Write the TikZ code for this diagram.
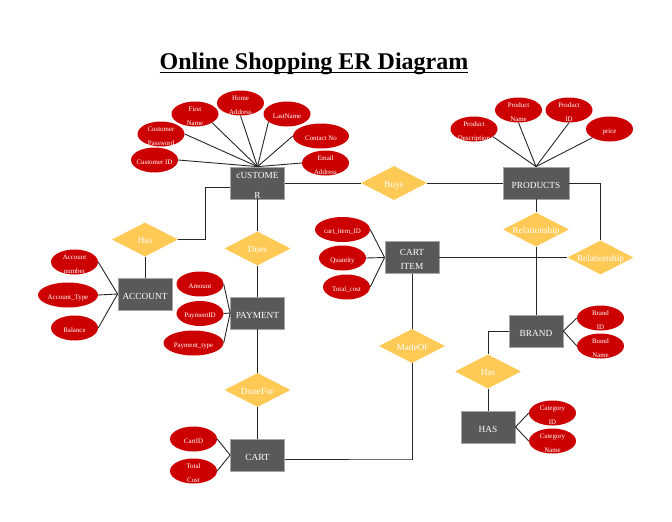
\documentclass[tikz,border=0pt]{standalone}
\usepackage{fontspec}
\setmainfont{Liberation Serif}
\usetikzlibrary{shapes.geometric}

\definecolor{attribred}{HTML}{CC0000}
\definecolor{relyellow}{HTML}{FFC955}
\definecolor{entitygrey}{HTML}{595959}
\definecolor{entityedge}{HTML}{A6A6A6}

\tikzset{
  entity/.style={align=center,text=white,rectangle,fill=entitygrey,draw=entityedge,line width=0.8pt,
    minimum width=54pt,minimum height=32pt,inner xsep=0pt,inner ysep=-9pt,
    text height=11.5pt,text depth=0pt,font=\fontsize{9.3}{14.5}\selectfont},
  attrib/.style={align=center,text=white,ellipse,fill=attribred,minimum width=47pt,minimum height=25pt,
    inner xsep=-12pt,inner ysep=-9pt,text height=8pt,text depth=0pt,font=\fontsize{6.9}{14}\selectfont},
  twoline/.style={text height=22.6pt},
  relation/.style={align=center,text=white,diamond,fill=relyellow,minimum width=66pt,minimum height=34pt,
    inner xsep=-10pt,inner ysep=-4pt,text height=8.5pt,text depth=0pt,font=\fontsize{9.3}{11}\selectfont},
  link/.style={line width=0.9pt,black!85}
}

\begin{document}
\begin{tikzpicture}[x=1pt,y=-1pt]
      % Bounding box
      \path (0,0) rectangle (672,522);

      \draw (314,64) node (title) {\fontsize{24}{28}\selectfont\bfseries
        \rlap{\rule[-3.8pt]{308pt}{1.8pt}}Online Shopping ER Diagram};

      % Entities
      \draw (257.5,183) node[entity,text height=30pt] (customer) {cUSTOME\\[5pt]R};
      \draw (536,183) node[entity,minimum width=66pt] (products) {PRODUCTS};
      \draw (145,294) node[entity] (account) {ACCOUNT};
      \draw (257.5,313) node[entity] (payment) {PAYMENT};
      \draw (412,257.5) node[entity,text height=24pt] (cartitem) {CART\\ITEM};
      \draw (536,331) node[entity] (brand) {BRAND};
      \draw (488,427) node[entity] (has) {HAS};
      \draw (257.5,455) node[entity] (cart) {CART};

      % Relations
      \draw (394,183) node[relation] (buys) {Buys};
      \draw (145,239.5) node[relation] (hasaccount) {Has};
      \draw (257.5,248.5) node[relation] (does) {Does};
      \draw (536,229.5) node[relation] (relproduct) {Relationship};
      \draw (600.5,257.5) node[relation] (relitem) {Relationship};
      \draw (412,346) node[relation] (madeof) {MadeOf};
      \draw (488,371.5) node[relation] (hasbrand) {Has};
      \draw (257.5,390) node[relation] (donefor) {DoneFor};

      % Attributes
      \draw (154.5,160) node[attrib] (custid) {Customer ID};
      \draw (161,134) node[attrib,twoline] (custpass) {Customer\\Password};
      \draw (195,114) node[attrib,twoline] (firstname) {First\\Name};
      \draw (240.5,103) node[attrib,twoline] (homeaddr) {Home\\Address};
      \draw (287,114) node[attrib] (lastname) {LastName};
      \draw (321,136) node[attrib,minimum width=56pt] (contact) {Contact No};
      \draw (325.5,163) node[attrib,twoline] (email) {Email\\Address};

      \draw (474,129) node[attrib,twoline] (proddesc) {Product\\Description};
      \draw (518.5,110) node[attrib,twoline] (prodname) {Product\\Name};
      \draw (569,110) node[attrib,twoline] (prodid) {Product\\ID};
      \draw (609.5,129) node[attrib] (price) {price};

      \draw (74.5,262) node[attrib,twoline] (accnum) {Account\\number};
      \draw (68,295) node[attrib,minimum width=60pt] (acctype) {Account\_Type};
      \draw (74.5,328) node[attrib] (balance) {Balance};

      \draw (200,284) node[attrib] (amount) {Amount};
      \draw (200,313.5) node[attrib] (payid) {PaymentID};
      \draw (193.5,343) node[attrib,minimum width=60pt] (paytype) {Payment\_type};

      \draw (342.5,229.5) node[attrib,minimum width=55pt] (itemid) {cart\_item\_ID};
      \draw (342.5,258) node[attrib] (quantity) {Quantity};
      \draw (346.5,287) node[attrib] (totalcost) {Total\_cost};

      \draw (600.5,318) node[attrib,twoline] (brandid) {Brand\\ID};
      \draw (600.5,346) node[attrib,twoline] (brandname) {Brand\\Name};
      \draw (552.5,413) node[attrib,twoline] (catid) {Category\\ID};
      \draw (552.5,441) node[attrib,twoline] (catname) {Category\\Name};
      \draw (193.5,439) node[attrib] (cartid) {CartID};
      \draw (193.5,471) node[attrib,twoline] (carttotal) {Total\\Cost};

      \coordinate (hasbend) at (205,187.5);
      \coordinate (cartbend) at (411.5,459);

      \draw [link] (custid.east) -- (customer.north);
      \draw [link] (custpass.east) -- (customer.north);
      \draw [link] (firstname.-27) -- (customer.north);
      \draw [link] (homeaddr.south) -- (customer.north);
      \draw [link] (lastname.203) -- (customer.north);
      \draw [link] (contact.west) -- (customer.north);
      \draw [link] (email.west) -- (customer.north);

      \draw [link] (proddesc.-22) -- (products.north);
      \draw [link] (prodname.south) -- (products.north);
      \draw [link] (prodid.south) -- (products.north);
      \draw [link] (price.207) -- (products.north);

      \draw [link] (accnum.east) -- (account.west);
      \draw [link] (acctype.east) -- (account.west);
      \draw [link] (balance.east) -- (account.west);
      \draw [link] (amount.east) -- (payment.west);
      \draw [link] (payid.east) -- (payment.west);
      \draw [link] (paytype.east) -- (payment.west);
      \draw [link] (itemid.east) -- (cartitem.west);
      \draw [link] (quantity.east) -- (cartitem.west);
      \draw [link] (totalcost.east) -- (cartitem.west);
      \draw [link] (brandid.west) -- (brand.east);
      \draw [link] (brandname.west) -- (brand.east);
      \draw [link] (catid.west) -- (has.east);
      \draw [link] (catname.west) -- (has.east);
      \draw [link] (cartid.east) -- (cart.west);
      \draw [link] (carttotal.east) -- (cart.west);

      \draw [link] (customer) -- (buys);
      \draw [link] (buys) -- (products);
      \draw [link] (hasaccount.east) -| (hasbend) -- (customer.west |- hasbend);
      \draw [link] (hasaccount) -- (account);
      \draw [link] (customer) -- (does);
      \draw [link] (does) -- (payment);
      \draw [link] (payment) -- (donefor);
      \draw [link] (donefor) -- (cart);
      \draw [link] (products) -- (relproduct);
      \draw [link] (relproduct) -- (brand);
      \draw [link] (products.east) -| (relitem.north);
      \draw [link] (cartitem.east) -- (relitem.west);
      \draw [link] (cartitem) -- (madeof);
      \draw [link] (madeof.south) |- (cartbend) -- (cart.east |- cartbend);
      \draw [link] (brand.west) -| (hasbrand.north);
      \draw [link] (hasbrand) -- (has);
    \end{tikzpicture}
\end{document}
